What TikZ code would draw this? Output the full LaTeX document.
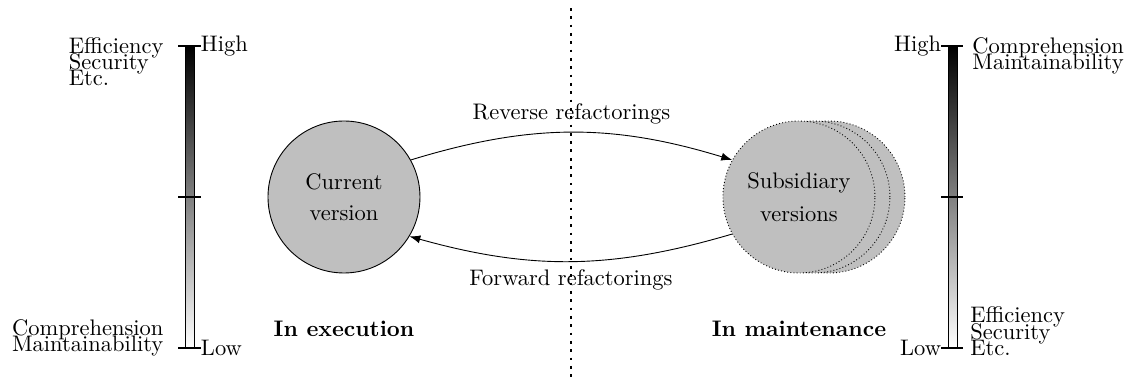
\documentclass[tikz,border=0pt]{standalone}
\usepackage{tikz}
\usetikzlibrary{arrows.meta,calc,positioning}
\tikzset{
  >={Latex},
  ver/.style={circle,fill=lightgray,minimum size=2.375cm,inner sep=0pt,align=center},
  bar/.style={draw,top color=black,bottom color=white},
  notch/.style={very thick},
  lbl/.style={inner sep=0pt,align=left},
  divider/.style={very thick,dash pattern=on 1.2pt off 2.5pt},
}

\begin{document}
\begin{tikzpicture}
  \useasboundingbox (0,0) rectangle (17.61,-5.953);
  \foreach \s/\x in {l/2.961,r/14.883} {
    \coordinate (\s top) at (\x,-0.719);
    \coordinate (\s mid) at (\x,-3.078);
    \coordinate (\s bot) at (\x,-5.438);
    \draw[bar] ($(\s top)+(-0.07,0)$) rectangle ($(\s bot)+(0.07,0)$);
    \foreach \p in {top,mid,bot}
      \draw[notch] ($(\s\p)+(-0.172,0)$) -- ($(\s\p)+(0.172,0)$);
  }
  \node[lbl,anchor=west] (lhigh) at ($(ltop)+(0.172,0)$) {High};
  \node[lbl,anchor=west] (llow) at ($(lbot)+(0.172,0)$) {Low};
  \node[lbl,anchor=east] (rhigh) at ($(rtop)+(-0.172,0)$) {High};
  \node[lbl,anchor=east] (rlow) at ($(rbot)+(-0.172,0)$) {Low};
  \node[lbl,anchor=north east] (lgood) at ($(ltop)+(-0.40,0.141)$) {Efficiency\\[-4.8pt]Security\\[-4.8pt]Etc.};
  \node[lbl,anchor=south east] (lbad) at ($(lbot)+(-0.40,-0.14)$) {Comprehension\\[-4.8pt]Maintainability};
  \node[lbl,anchor=north west] (rgood) at ($(rtop)+(0.305,0.141)$) {Comprehension\\[-4.8pt]Maintainability};
  \node[lbl,anchor=south west] (rbad) at ($(rbot)+(0.273,-0.125)$) {Efficiency\\[-4.8pt]Security\\[-4.8pt]Etc.};
  \node[ver,draw] (cur) at (5.375,-3.078) {Current\\[2pt]version};
  \coordinate (subc) at (12.484,-3.078);
  \node[ver,draw,densely dotted] (sub3) at ($(subc)+(0.469,0)$) {};
  \node[ver,draw,densely dotted] (sub2) at ($(subc)+(0.234,0)$) {};
  \node[ver,draw,densely dotted] (sub) at (subc) {Subsidiary\\[2.5pt]versions};
  \draw[->] (cur.29) to[bend left=17] node[above] {Reverse refactorings} (sub.151);
  \draw[->] (sub.209) to[bend left=16] node[below] {Forward refactorings} (cur.-31);
  \node[below=0.62cm of cur,font=\bfseries] (exe) {In execution};
  \node[below=0.62cm of sub,font=\bfseries] (mnt) {In maintenance};
  \coordinate (divtop) at (8.922,-0.125);
  \coordinate (divbot) at (8.922,-5.906);
  \draw[divider] (divtop) -- (divbot);
\end{tikzpicture}
\end{document}
